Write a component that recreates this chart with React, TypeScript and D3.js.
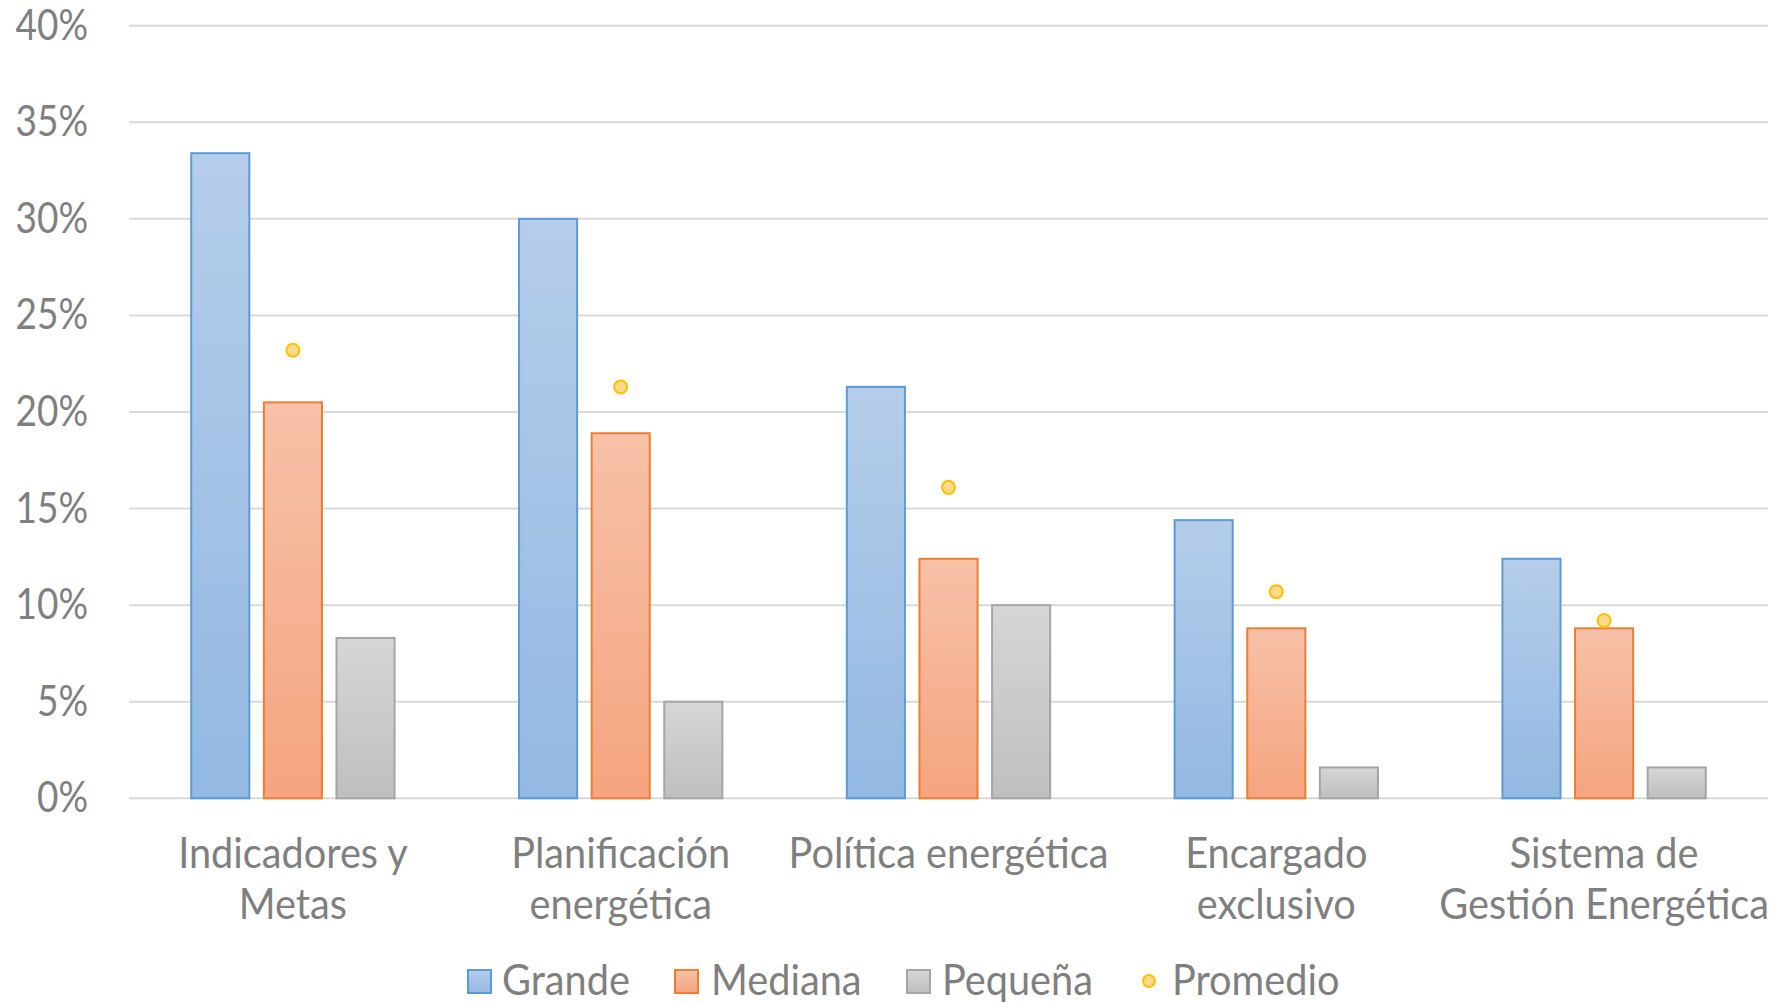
import React from "react";
import * as d3 from "d3";

const categories = [
  ["Indicadores y", "Metas"],
  ["Planificación", "energética"],
  ["Política energética"],
  ["Encargado", "exclusivo"],
  ["Sistema de", "Gestión Energética"],
];
const categoryKeys = categories.map((c) => c.join(" "));
const seriesNames = ["Grande", "Mediana", "Pequeña"];
const grande = [33.4, 30.0, 21.3, 14.4, 12.4];
const mediana = [20.5, 18.9, 12.4, 8.8, 8.8];
const pequena = [8.3, 5.0, 10.0, 1.6, 1.6];
const promedio = [23.2, 21.3, 16.1, 10.7, 9.2];
const yTicks = [0, 5, 10, 15, 20, 25, 30, 35, 40];

const W = 1778;
const H = 1003;
const left = 129;
const right = 1768;
const top = 25.7;
const bottom = 798.3;
const FONT = "Lato, 'Open Sans', sans-serif";
const TXT = "#7f7f7f";
const FS = 42;
const SX = 0.945;
const SX_TICK = 0.88;

const seriesStyle = [
  { stroke: "#5b9bd5", top: "#b5cdea", bot: "#93b8e2" },
  { stroke: "#ed7d31", top: "#f7c1a8", bot: "#f5a47f" },
  { stroke: "#a5a5a5", top: "#d6d6d6", bot: "#bfbfbf" },
];

export default function App() {
  const x0 = d3.scaleBand().domain(categoryKeys).range([left, right]).paddingInner(0).paddingOuter(0);
  const x1 = d3
    .scaleBand()
    .domain(seriesNames)
    .range([0, x0.bandwidth()])
    .paddingInner(0.2)
    .paddingOuter(0.857);
  const y = d3.scaleLinear().domain([0, 40]).range([bottom, top]);
  const data = [grande, mediana, pequena];

  const legendItems = [
    { label: "Grande", sx: 468, tx: 502, kind: 0 },
    { label: "Mediana", sx: 675, tx: 711, kind: 1 },
    { label: "Pequeña", sx: 907, tx: 942, kind: 2 },
    { label: "Promedio", sx: 1143, tx: 1172, kind: 3 },
  ];

  return (
    <svg width={W} height={H} style={{ position: "absolute", left: 0, top: 0, background: "#fff" }}>
      <defs>
        {seriesStyle.map((s, i) => (
          <linearGradient key={i} id={`g${i}`} x1="0" y1="0" x2="0" y2="1">
            <stop offset="0" stopColor={s.top} />
            <stop offset="1" stopColor={s.bot} />
          </linearGradient>
        ))}
      </defs>
      <rect width={W} height={H} fill="#fff" />
      {yTicks.map((t) => (
        <g key={t}>
          <line x1={left} x2={right} y1={y(t)} y2={y(t)} stroke="#d9d9d9" strokeWidth={2} />
          <g transform={`translate(88,${y(t) + 14}) scale(${SX_TICK},1)`}>
            <text x={0} y={0} textAnchor="end" fontFamily={FONT} fontSize={FS} fill={TXT}>
              {t}%
            </text>
          </g>
        </g>
      ))}
      {data.map((vals, si) =>
        vals.map((v, ci) => {
          const bx = (x0(categoryKeys[ci]) as number) + (x1(seriesNames[si]) as number);
          return (
            <rect
              key={`${si}-${ci}`}
              x={bx}
              y={y(v)}
              width={x1.bandwidth()}
              height={bottom - y(v)}
              fill={`url(#g${si})`}
              stroke={seriesStyle[si].stroke}
              strokeWidth={2}
            />
          );
        })
      )}
      {promedio.map((v, ci) => (
        <circle
          key={ci}
          cx={(x0(categoryKeys[ci]) as number) + x0.bandwidth() / 2}
          cy={y(v)}
          r={6.5}
          fill="#ffd98a"
          stroke="#ffc000"
          strokeWidth={2}
        />
      ))}
      {categories.map((lines, ci) => {
        const cx = (x0(categoryKeys[ci]) as number) + x0.bandwidth() / 2;
        return (
          <g key={ci} transform={`translate(${cx},0) scale(${SX},1)`}>
            {lines.map((ln, li) => (
              <text
                key={li}
                x={0}
                y={868 + li * 51}
                textAnchor="middle"
                fontFamily={FONT}
                fontSize={FS}
                fill={TXT}
              >
                {ln}
              </text>
            ))}
          </g>
        );
      })}
      {legendItems.map((it) => (
        <g key={it.label}>
          {it.kind < 3 ? (
            <rect
              x={it.sx}
              y={970}
              width={23}
              height={23}
              fill={`url(#g${it.kind})`}
              stroke={seriesStyle[it.kind].stroke}
              strokeWidth={2}
            />
          ) : (
            <circle cx={1149} cy={981} r={6} fill="#ffd98a" stroke="#ffc000" strokeWidth={2} />
          )}
          <g transform={`translate(${it.tx},995) scale(${SX},1)`}>
            <text x={0} y={0} fontFamily={FONT} fontSize={FS} fill={TXT}>
              {it.label}
            </text>
          </g>
        </g>
      ))}
    </svg>
  );
}
